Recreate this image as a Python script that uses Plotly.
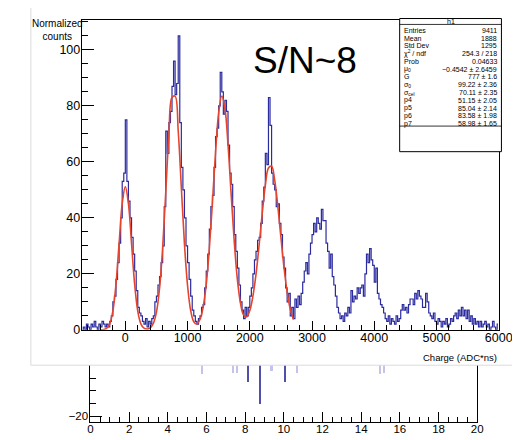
import plotly.graph_objects as go

# ---------------- data ----------------
# main histogram: charge bins (ADC*ns), 25 wide, starting at -700
hist_first_edge = -700
hist_bin_width = 25
hist_counts = [
    0, 1, 0, 2,   1, 0, 2, 1,   3, 1, 0, 2,   1, 3, 2, 1,   2, 1, 3, 5,      # -700 .. -300
    10, 12, 18, 24,   31, 40, 53, 56,   75, 53, 46, 40,   33, 27, 21, 14,  # -200 .. 100
    8, 6, 5, 3,   2, 4, 1, 3,   2, 4, 5, 10,   12, 16, 19, 24,             # 200 .. 500
    30, 44, 71, 63,   74, 78, 87, 96,   84, 88, 105, 74,   58, 50, 40, 30,  # 600 .. 900
    24, 18, 12, 7,   5, 3, 2, 4,   5, 8, 9, 15,   21, 27, 36, 44,          # 1000 .. 1300
    48, 58, 69, 72,   80, 92, 85, 77,   82, 78, 66, 56,   52, 44, 34, 28,  # 1400 .. 1700
    22, 16, 10, 7,   4, 8, 5, 8,   12, 15, 20, 25,   28, 32, 33, 38,       # 1800 .. 2100
    46, 51, 63, 59,   83, 73, 56, 52,   50, 44, 45, 38,   34, 26, 22, 15,  # 2200 .. 2500
    10, 13, 5, 8,   4, 11, 8, 12,   9, 13, 17, 21,   24, 20, 27, 31,       # 2600 .. 2900
    34, 38, 35, 40,   38, 36, 43, 39,   39, 31, 28, 22,   27, 19, 16, 12,  # 3000 .. 3300
    8, 6, 4, 5,   3, 6, 5, 8,   6, 14, 10, 12,   11, 15, 13, 15,           # 3400 .. 3700
    16, 12, 20, 27,   24, 29, 25, 23,   17, 22, 13, 11,   9, 8, 6, 4,      # 3800 .. 4100
    3, 5, 2, 4,   3, 2, 5, 3,   4, 7, 9, 7,   8, 6, 9, 11,                 # 4200 .. 4500
    11, 9, 13, 11,   14, 12, 11, 8,   8, 13, 10, 6,   5, 4, 6, 3,          # 4600 .. 4900
    2, 4, 3, 1,   3, 2, 4, 1,   2, 4, 3, 5,   6, 4, 7, 5,                  # 5000 .. 5300
    8, 5, 7, 4,   7, 3, 5, 2,   4, 2, 3, 1,   3, 1, 2, 3,                  # 5400 .. 5700
    1, 2, 0, 1,   3, 1, 0, 2,                                              # 5800 .. 5900
]

# fit curve, sampled every 50 ADC*ns from -400 to 2700
fit_start = -400
fit_step = 50
fit_values = [
    0.02, 0.10, 0.53, 2.14, 6.7, 16.3, 30.8, 45.05, 51.15,
    45.05, 30.8, 16.3, 6.7, 2.14, 0.57, 0.28, 0.71, 2.27, 6.3,
    14.85, 29.4, 49.3, 69.6, 83.0, 83.5, 71.0, 50.9, 30.8, 15.8,
    6.9, 2.9, 2.1, 3.7, 8.0, 16.2, 29.0, 45.7, 63.5, 77.6,
    83.55, 79.2, 66.1, 48.6, 31.6, 18.1, 9.55, 5.34, 4.63, 6.88,
    12.0, 19.9, 30.3, 41.6, 51.6, 57.8, 58.5, 53.5, 44.2, 33.0,
    22.2, 13.5, 7.45, 3.70,
]

# stats box
stats_title = "h1"
stats_labels = ["Entries", "Mean", "Std Dev", "χ<sup>2</sup> / ndf", "Prob",
                "μ<sub>0</sub>", "G", "σ<sub>0</sub>", "σ<sub>cel</sub>",
                "p4", "p5", "p6", "p7"]
stats_values = ["9411", "1888", "1295", "254.3 / 218", "0.04633",
                "−0.4542 ± 2.6459", "777 ± 1.6", "99.22 ± 2.36", "70.11 ± 2.35",
                "51.15 ± 2.05", "85.04 ± 2.14", "83.58 ± 1.98", "58.98 ± 1.65"]

# lower (partially hidden) panel
low_x = [5.8, 7.4, 7.6, 8.2, 8.8, 9.4, 10.1, 10.7, 15.0, 15.2]
low_y = [-3.5, -3, -3, -6.5, -15.4, -2.5, -6.5, -3, -3.5, -3]
low_dark = [False, False, False, True, True, False, True, False, False, False]

# ---------------- layout helpers ----------------
W, H = 520, 440
def fx(px):
    return px / W
def fy(py):
    return 1 - py / H

FONT = "Liberation Sans, Arial, sans-serif"

hist_centers = [hist_first_edge + hist_bin_width * (i + 0.5) for i in range(len(hist_counts))]
fit_x = [fit_start + fit_step * i for i in range(len(fit_values))]

fig = go.Figure()

fig.add_trace(go.Scatter(
    x=hist_centers, y=hist_counts, mode="lines",
    line=dict(color="#2b2ba0", width=1.2, shape="hvh"),
    xaxis="x", yaxis="y", hoverinfo="skip"))

fig.add_trace(go.Scatter(
    x=fit_x, y=fit_values, mode="lines",
    line=dict(color="#e5452c", width=1.6, shape="spline", smoothing=1.0),
    xaxis="x", yaxis="y", hoverinfo="skip"))

fig.add_trace(go.Bar(
    x=low_x, y=low_y, width=0.08,
    marker=dict(color=["#5050ac" if d else "#c4c4ea" for d in low_dark], line=dict(width=0)),
    xaxis="x2", yaxis="y2", hoverinfo="skip"))

axis_common = dict(showline=True, linecolor="black", linewidth=1, ticks="inside",
                   tickcolor="black", showgrid=False, zeroline=False)

fig.update_layout(
    width=W, height=H, autosize=False,
    margin=dict(l=0, r=0, t=0, b=0),
    paper_bgcolor="white", plot_bgcolor="rgba(0,0,0,0)",
    showlegend=False, hovermode=False, bargap=0,
    xaxis=dict(domain=[fx(73), fx(504)], range=[-700, 6012], anchor="y",
               dtick=1000, tick0=0, ticklen=9, mirror=True, ticklabelstandoff=-4,
               tickfont=dict(family=FONT, size=12.5, color="black"),
               minor=dict(dtick=200, tick0=0, ticklen=5, ticks="inside", tickcolor="black"),
               **axis_common),
    yaxis=dict(domain=[fy(327), fy(12.7)], range=[0, 110.5], anchor="x",
               dtick=20, tick0=0, ticklen=12, mirror=True, ticklabelstandoff=-2,
               tickfont=dict(family=FONT, size=12.5, color="black"),
               minor=dict(dtick=5, tick0=0, ticklen=6, ticks="inside", tickcolor="black"),
               **axis_common),
    xaxis2=dict(domain=[fx(82), fx(481)], range=[0, 20], anchor="y2",
                dtick=2, tick0=0, ticklen=10, ticklabelstandoff=-4,
                tickfont=dict(family=FONT, size=11.5, color="black"),
                minor=dict(dtick=0.5, tick0=0, ticklen=5, ticks="inside", tickcolor="black"),
                **axis_common),
    yaxis2=dict(domain=[fy(421), fy(363)], range=[-22.3, 0], anchor="x2",
                tickvals=[-20], ticklen=12, mirror=True, ticklabelstandoff=-1,
                tickfont=dict(family=FONT, size=11.5, color="black"),
                minor=dict(dtick=5, tick0=0, ticklen=6, ticks="inside", tickcolor="black"),
                **axis_common),
)

shapes = []
# card border (light gray) around the main picture
shapes.append(dict(type="line", xref="paper", yref="paper", x0=fx(20.5), x1=fx(20.5),
                   y0=fy(0), y1=fy(363), line=dict(color="#dcdcdc", width=1), layer="above"))
shapes.append(dict(type="line", xref="paper", yref="paper", x0=fx(20.5), x1=fx(520),
                   y0=fy(363), y1=fy(363), line=dict(color="#dcdcdc", width=1), layer="above"))
# stats box
shapes.append(dict(type="rect", xref="paper", yref="paper", x0=fx(401), x1=fx(506),
                   y0=fy(146), y1=fy(10.7), fillcolor="white",
                   line=dict(color="black", width=1), layer="above"))
shapes.append(dict(type="line", xref="paper", yref="paper", x0=fx(401), x1=fx(506),
                   y0=fy(16.7), y1=fy(16.7), line=dict(color="black", width=0.8), layer="above"))
shapes.append(dict(type="line", xref="paper", yref="paper", x0=fx(401), x1=fx(506),
                   y0=fy(120), y1=fy(120), line=dict(color="black", width=0.8), layer="above"))
fig.update_layout(shapes=shapes)

ann = []
ann.append(dict(text=stats_title, x=fx(453.5), y=fy(13.7), xref="paper", yref="paper",
                showarrow=False, xanchor="center", yanchor="middle",
                font=dict(family=FONT, size=7, color="black")))
for i, (lab, val) in enumerate(zip(stats_labels, stats_values)):
    yy = 22.7 + 7.9 * i
    ann.append(dict(text=lab, x=fx(403), y=fy(yy), xref="paper", yref="paper",
                    showarrow=False, xanchor="left", yanchor="middle",
                    font=dict(family=FONT, size=7, color="black")))
    ann.append(dict(text=val, x=fx(504), y=fy(yy), xref="paper", yref="paper",
                    showarrow=False, xanchor="right", yanchor="middle",
                    font=dict(family=FONT, size=7, color="black")))

ann.append(dict(text="Normalized<br>counts", x=fx(47.5), y=fy(22.5), xref="paper", yref="paper",
                showarrow=False, xanchor="center", yanchor="middle", align="center",
                font=dict(family=FONT, size=10, color="black")))
ann.append(dict(text="Charge (ADC*ns)", x=fx(503), y=fy(355), xref="paper", yref="paper",
                showarrow=False, xanchor="right", yanchor="middle",
                font=dict(family=FONT, size=9.5, color="black")))
ann.append(dict(text="S/N~8", x=fx(303), y=fy(53), xref="paper", yref="paper",
                showarrow=False, xanchor="center", yanchor="middle",
                font=dict(family=FONT, size=37, color="black")))
fig.update_layout(annotations=ann)

fig.write_html("out.html")
